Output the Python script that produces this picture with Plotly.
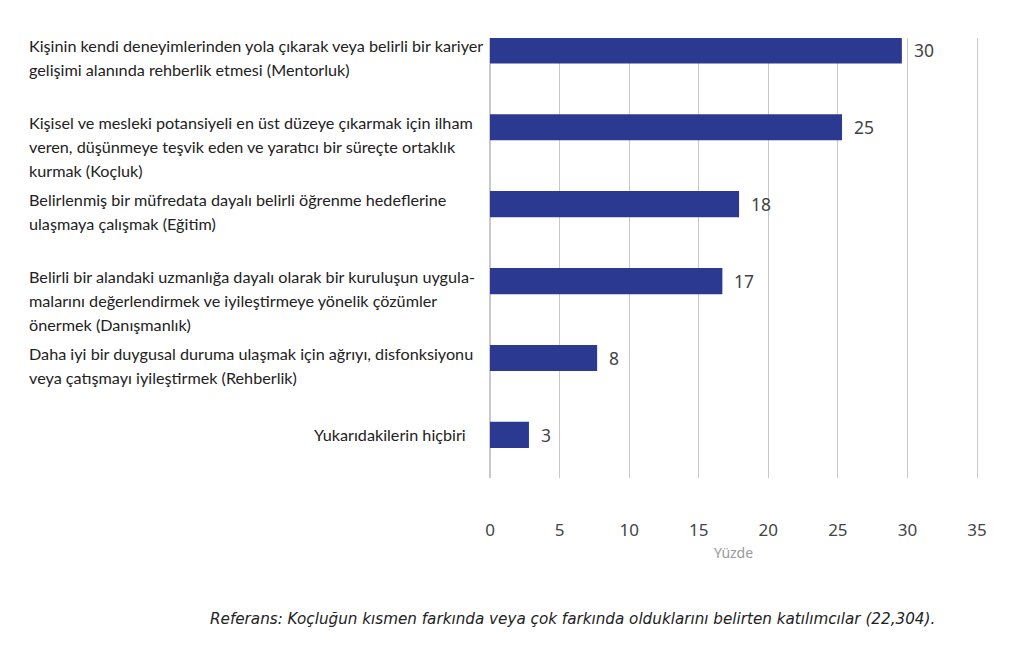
import plotly.graph_objects as go

# Kategoriler (satırlara bölünmüş etiketler) ve yüzde değerleri
categories = [
    "Mentorluk",
    "Koçluk",
    "Eğitim",
    "Danışmanlık",
    "Rehberlik",
    "Hiçbiri",
]
label_lines = [
    ["Kişinin kendi deneyimlerinden yola çıkarak veya belirli bir kariyer",
     "gelişimi alanında rehberlik etmesi (Mentorluk)"],
    ["Kişisel ve mesleki potansiyeli en üst düzeye çıkarmak için ilham",
     "veren, düşünmeye teşvik eden ve yaratıcı bir süreçte ortaklık",
     "kurmak (Koçluk)"],
    ["Belirlenmiş bir müfredata dayalı belirli öğrenme hedeflerine",
     "ulaşmaya çalışmak (Eğitim)"],
    ["Belirli bir alandaki uzmanlığa dayalı olarak bir kuruluşun uygula-",
     "malarını değerlendirmek ve iyileştirmeye yönelik çözümler",
     "önermek (Danışmanlık)"],
    ["Daha iyi bir duygusal duruma ulaşmak için ağrıyı, disfonksiyonu",
     "veya çatışmayı iyileştirmek (Rehberlik)"],
    ["Yukarıdakilerin hiçbiri"],
]
# çubuk uzunlukları; etiketler yuvarlatılmış gösteriliyor
values = [29.6, 25.3, 17.9, 16.7, 7.7, 2.8]
x_ticks = [0, 5, 10, 15, 20, 25, 30, 35]
footnote = "Referans: Koçluğun kısmen farkında veya çok farkında olduklarını belirten katılımcılar (22,304)."

BAR_COLOR = "#2b3990"
GRID = "#c9c9c9"
LABEL_FONT = dict(family="Lato, Open Sans, sans-serif", size=16.2, color="#222222")
VALUE_FONT = dict(family="Noto Sans, sans-serif", size=17.5, color="#444444")

fig = go.Figure(
    go.Bar(
        x=values,
        y=categories,
        orientation="h",
        marker=dict(color=BAR_COLOR, line=dict(width=0)),
        width=0.34,
        hoverinfo="skip",
    )
)

annotations = []
for cat, lines, val in zip(categories, label_lines, values):
    if len(lines) == 1:
        # tek satırlık etiket çubuğun hemen soluna sağa hizalı
        annotations.append(dict(
            x=0, y=cat, xref="x", yref="y", text=lines[0], showarrow=False,
            xanchor="right", yanchor="middle", xshift=-22, font=LABEL_FONT,
        ))
    else:
        for i, line in enumerate(lines):
            annotations.append(dict(
                x=0, y=cat, xref="x", yref="y", text=line, showarrow=False,
                xanchor="left", yanchor="middle", xshift=-463,
                yshift=5 - 24 * i, font=LABEL_FONT,
            ))
    # değer etiketi
    annotations.append(dict(
        x=val, y=cat, xref="x", yref="y", text=str(round(val)), showarrow=False,
        xanchor="left", yanchor="middle", xshift=10, font=VALUE_FONT,
    ))

# dipnot
annotations.append(dict(
    x=1.0, y=-0.32, xref="paper", yref="paper", xshift=-40,
    text="<i>" + footnote + "</i>",
    showarrow=False, xanchor="right", yanchor="middle",
    font=dict(family="DejaVu Sans, Verdana, sans-serif", size=15.2, color="#222222"),
))

fig.update_layout(
    width=1010,
    height=652,
    margin=dict(l=482, r=41, t=30, b=182),
    paper_bgcolor="white",
    plot_bgcolor="white",
    showlegend=False,
    annotations=annotations,
    xaxis=dict(
        range=[0, 35],
        tickvals=x_ticks,
        showgrid=True,
        gridcolor=GRID,
        gridwidth=1,
        zeroline=True,
        zerolinecolor=GRID,
        zerolinewidth=1,
        showline=False,
        ticks="",
        ticklabelstandoff=40,
        tickfont=dict(family="Noto Sans, sans-serif", size=17, color="#444444"),
        title=dict(text="Yüzde", standoff=8,
                   font=dict(family="Noto Sans, sans-serif", size=14, color="#999999")),
        fixedrange=True,
    ),
    yaxis=dict(
        range=[5.56, -0.16],
        showticklabels=False,
        showgrid=False,
        zeroline=False,
        showline=True,
        mirror=True,
        linecolor=GRID,
        linewidth=1,
        ticks="",
        fixedrange=True,
    ),
)

fig.write_html("out.html")
